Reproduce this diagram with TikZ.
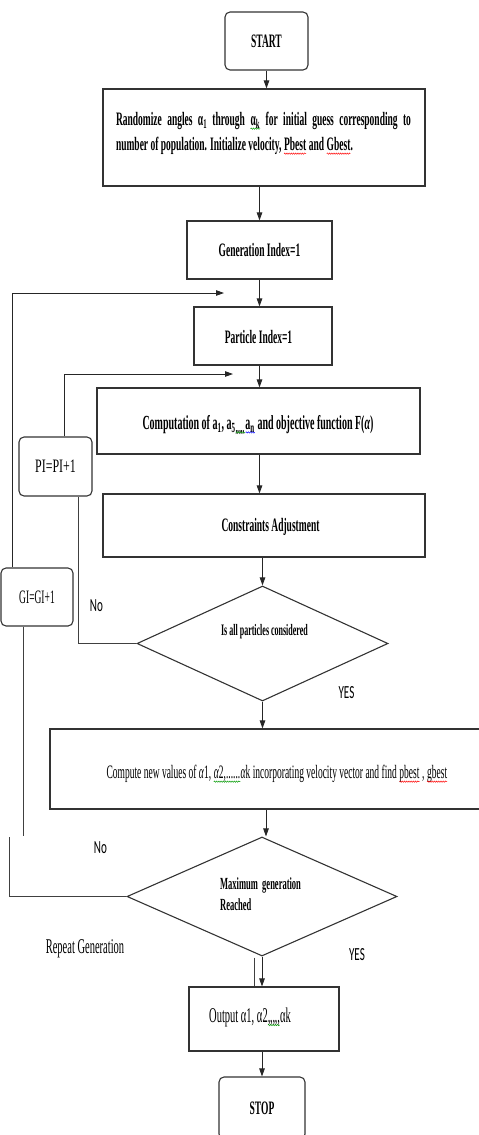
\documentclass[tikz,border=0pt]{standalone}
\usepackage{fontspec}
\setmainfont{Liberation Serif}[FakeStretch=0.5]
\newfontfamily\serifw{Liberation Serif}[FakeStretch=0.63]
\newfontfamily\sanscond{Carlito}[FakeStretch=0.6]
\usetikzlibrary{shapes.geometric,arrows.meta,decorations.pathmorphing}
\newcommand\wavy[2]{\tikz[baseline=(w.base)]{\node[rectangle,draw=none,fill=none,minimum width=0pt,minimum height=0pt,inner sep=0pt,outer sep=0pt](w){#2};
  \draw[#1, line width=0.45pt, decorate, decoration={snake,amplitude=0.7pt,segment length=2.2pt}]
   ([yshift=-3pt]w.base west) -- ([yshift=-3pt]w.base east);}}
\begin{document}
\begin{tikzpicture}[x=1pt,y=-1pt,
  box/.style={draw=black!80, line width=1.1pt, rectangle, inner sep=0pt, align=center},
  rbox/.style={box, rounded corners=5pt},
  dia/.style={draw=black!80, line width=1.1pt, diamond, inner sep=0pt},
  arr/.style={draw=black!85, line width=0.9pt, -{Triangle[length=8pt,width=5.5pt]}},
  ln/.style={draw=black!75, line width=0.9pt},
  txt/.style={inner sep=0pt, align=center},
  bf/.style={font=\fontsize{19}{25}\selectfont\bfseries},
  rg/.style={font=\fontsize{19}{25}\selectfont},
  lab/.style={inner sep=0pt, font=\sanscond\fontsize{18.5}{20}\selectfont}]
\useasboundingbox (0,0) rectangle (479,1135);

% boxes
\node[rbox, bf, minimum width=83pt, minimum height=58pt] (start) at (266.5,41) {START};
\node[box, minimum width=322pt, minimum height=97pt] (rand) at (264,137.5) {};
\node[txt, bf, text width=295pt, align=justify] (randt) at (263.5,133.5)
  {Randomize angles α\textsubscript{1} through \wavy{green!60!black}{α\textsubscript{k}} for initial guess corresponding to\linebreak
   number of population. Initialize velocity, \wavy{red}{Pbest} and \wavy{red}{Gbest}.};
\node[box, bf, minimum width=145pt, minimum height=58pt] (gen) at (259.5,250) {Generation Index=1};
\node[box, minimum width=138pt, minimum height=58pt] (part) at (263,336) {};
\node[txt, bf] (partt) at (258.5,337) {Particle Index=1};
\node[box, minimum width=323pt, minimum height=66pt] (comp) at (258.5,421) {};
\node[txt, font=\fontsize{20}{25}\selectfont\bfseries] (compt) at (258,425)
  {Computation of a\textsubscript{1}, a\textsubscript{5}\wavy{green!60!black}{\textsubscript{,,,,,}}\wavy{blue}{a\textsubscript{n}} and objective function F(\textit{α})};
\node[box, minimum width=322pt, minimum height=63pt] (cons) at (264,525.5) {};
\node[txt, bf] (const) at (270.5,527) {Constraints Adjustment};

\node[dia, minimum width=251pt, minimum height=115pt] (d1) at (262.5,643.5) {};
\node[txt, font=\fontsize{16}{20}\selectfont\bfseries] (d1t) at (264.5,632) {Is all particles considered};

\node[box, minimum width=432pt, minimum height=80pt] (comp2) at (266,769) {};
\node[txt, rg] (comp2t) at (277,774)
  {Compute new values of \textit{α}1, \wavy{green!60!black}{\textit{α}2,......}\textit{α}k incorporating velocity vector and find \wavy{red}{pbest} , \wavy{red}{gbest}};

\node[dia, minimum width=270pt, minimum height=119pt] (d2) at (262,896.5) {};
\node[txt, font=\fontsize{17}{21}\selectfont\bfseries, align=left, anchor=west] (d2t) at (220,894.5) {Maximum\ \ generation\\Reached};

\node[box, minimum width=150pt, minimum height=64pt] (out) at (264,1019) {};
\node[txt, font=\fontsize{21}{25}\selectfont, anchor=west] (outt) at (209,1017) {Output α1, α2\wavy{green!60!black}{,,,,,}αk};

\node[rbox, bf, minimum width=86pt, minimum height=62pt] (stop) at (262,1108) {STOP};

\node[rbox, font=\serifw\fontsize{19}{25}\selectfont, minimum width=73pt, minimum height=59pt] (pi) at (55.5,466.5) {PI=PI+1};
\node[rbox, rg, minimum width=72pt, minimum height=58pt] (gi) at (37,597) {GI=GI+1};

% labels
\node[lab] (no1) at (96.5,606) {No};
\node[lab] (yes1) at (346.5,693) {YES};
\node[lab] (no2) at (100.5,848) {No};
\node[lab] (yes2) at (357,955) {YES};
\node[txt, font=\fontsize{21}{25}\selectfont] (rep) at (85,949) {Repeat Generation};

% main flow
\draw[arr] (start.south) -- (start.south |- rand.north);
\draw[arr] (gen.north |- rand.south) -- (gen.north);
\draw[arr] (gen.south) -- (gen.south |- part.north);
\draw[arr] (gen.south |- part.south) -- (gen.south |- comp.north);
\draw[arr] (gen.south |- comp.south) -- (gen.south |- cons.north);
\draw[arr] (d1.north |- cons.south) -- (d1.north);
\draw[arr] (d1.south) -- (d1.south |- comp2.north);
\draw[arr] (comp2.south) -- (comp2.south |- d2.north);
\draw[arr] (d2.south) -- (d2.south |- out.north);
\draw[ln] ([xshift=-8pt,yshift=-1pt]d2.south) -- ([xshift=-8pt]d2.south |- out.north);
\draw[arr] (stop.north |- out.south) -- (stop.north);

% loops
\coordinate (pin) at (233,374);
\draw[arr] ([xshift=8.5pt]pi.north) |- (pin);
\draw[ln] (d1.west) -| ([xshift=22.5pt]pi.south);
\coordinate (gin) at (224,293);
\draw[arr] ([xshift=-25pt]gi.north) |- (gin);
\coordinate (g2) at (23,836);
\draw[ln] ([xshift=-14pt]gi.south) -- (g2);
\coordinate (g3) at (9,837);
\draw[ln] (d2.west) -| (g3);
\end{tikzpicture}
\end{document}
